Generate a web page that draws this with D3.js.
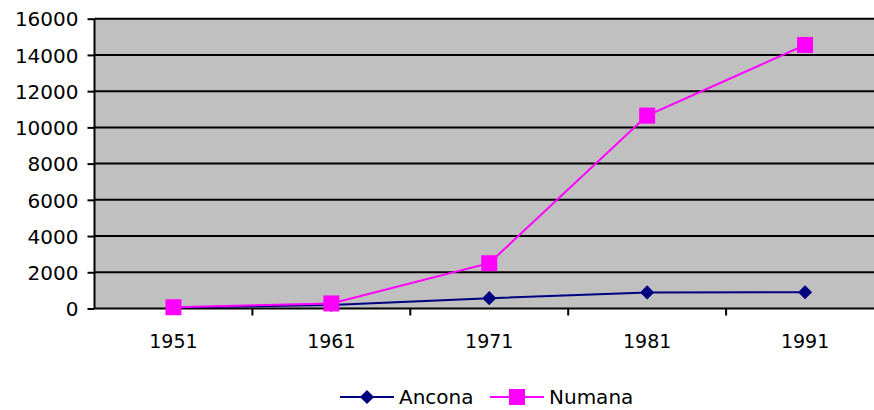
<!DOCTYPE html>
<html><head><meta charset="utf-8">
<script src="https://cdn.jsdelivr.net/npm/d3@7"></script>
<style>body{margin:0;background:#fff;overflow:hidden}</style>
</head><body>
<svg id="c" width="874" height="410"></svg>
<script>
const years = ["1951","1961","1971","1981","1991"];
const ancona = [50, 200, 570, 890, 900];
const numana = [70, 280, 2500, 10650, 14550];
const yTicks = [0,2000,4000,6000,8000,10000,12000,14000,16000];
const seriesNames = ["Ancona","Numana"];

const svg = d3.select("#c");
const L = 94.5, R = 884, T = 18.7, B = 308.5;
const x = d3.scaleBand().domain(years).range([L, R]);
const y = d3.scaleLinear().domain([0,16000]).range([B, T]);

svg.append("rect").attr("x",L).attr("y",T).attr("width",R-L).attr("height",B-T).attr("fill","#C0C0C0");

// gridlines
svg.append("g").selectAll("line").data(yTicks.slice(1)).join("line")
  .attr("x1",L).attr("x2",R).attr("y1",d=>y(d)).attr("y2",d=>y(d))
  .attr("stroke","#000").attr("stroke-width",2);

// y axis
const ya = svg.append("g").attr("transform",`translate(${L},0)`)
  .call(d3.axisLeft(y).tickValues(yTicks).tickSize(7).tickPadding(9).tickFormat(d3.format("d")));
ya.select(".domain").attr("stroke","#000").attr("stroke-width",2).attr("d",`M0,${T}V${B}`);
ya.selectAll(".tick line").attr("stroke","#000").attr("stroke-width",2);
ya.selectAll("text").attr("font-family","'DejaVu Sans', Verdana, sans-serif").attr("font-size",20).attr("fill","#000").attr("dy","0.36em");

// x axis
const xa = svg.append("g").attr("transform",`translate(0,${B})`)
  .call(d3.axisBottom(x).tickSize(0).tickPadding(0));
xa.select(".domain").attr("stroke","#000").attr("stroke-width",2).attr("d",`M${L},0H${R}`);
xa.selectAll("text").attr("font-family","'DejaVu Sans', Verdana, sans-serif")
  .attr("font-size",19).attr("fill","#000").attr("y",33).attr("dy","0.36em");
// boundary ticks between categories
const bounds = years.slice(1).map(d=>x(d));
svg.append("g").selectAll("line").data(bounds).join("line")
  .attr("x1",d=>d).attr("x2",d=>d).attr("y1",B).attr("y2",B+7)
  .attr("stroke","#000").attr("stroke-width",2);

const cx = d=>x(d)+x.bandwidth()/2;
const line = d3.line().x((d,i)=>cx(years[i])).y(d=>y(d));

// Ancona
svg.append("path").datum(ancona).attr("d",line).attr("fill","none").attr("stroke","#000080").attr("stroke-width",2);
const diamond = d3.symbol().type(d3.symbolSquare).size(100);
svg.append("g").selectAll("path").data(ancona).join("path")
  .attr("d",diamond()).attr("transform",(d,i)=>`translate(${cx(years[i])},${y(d)}) rotate(45)`)
  .attr("fill","#000080");

// Numana
svg.append("path").datum(numana).attr("d",line).attr("fill","none").attr("stroke","#FF00FF").attr("stroke-width",2);
svg.append("g").selectAll("rect").data(numana).join("rect")
  .attr("x",(d,i)=>cx(years[i])-8).attr("y",d=>y(d)-8).attr("width",16).attr("height",16)
  .attr("fill","#FF00FF");

// legend
const lg = svg.append("g").attr("font-family","'DejaVu Sans', Verdana, sans-serif").attr("font-size",20);
const ly = 397;
const items = [{name:seriesNames[0],c:"#000080",x0:340,type:"d"},{name:seriesNames[1],c:"#FF00FF",x0:490,type:"s"}];
items.forEach(it=>{
  lg.append("line").attr("x1",it.x0).attr("x2",it.x0+54).attr("y1",ly).attr("y2",ly).attr("stroke",it.c).attr("stroke-width",2);
  if(it.type==="d"){
    lg.append("path").attr("d",diamond()).attr("transform",`translate(${it.x0+27},${ly}) rotate(45)`).attr("fill",it.c);
  } else {
    lg.append("rect").attr("x",it.x0+27-8).attr("y",ly-8).attr("width",16).attr("height",16).attr("fill",it.c);
  }
  lg.append("text").attr("x",it.x0+59).attr("y",ly).attr("dy","0.36em").attr("fill","#000").text(it.name);
});
</script>
</body></html>
